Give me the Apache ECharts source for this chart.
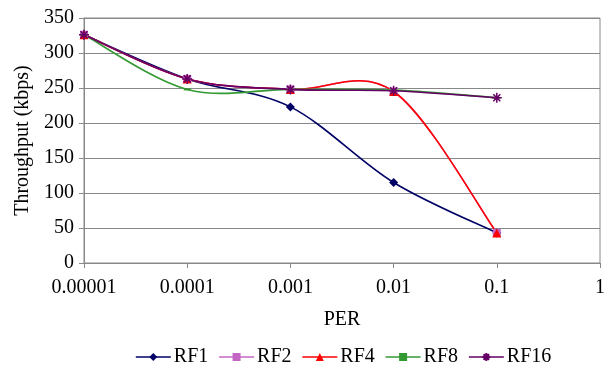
<!DOCTYPE html>
<html><head><meta charset="utf-8">
<script src="https://cdn.jsdelivr.net/npm/echarts@6/dist/echarts.min.js"></script>
<style>html,body{margin:0;padding:0;background:#fff}#c{width:613px;height:370px}</style>
</head><body><div id="c"></div>
<script>
const perValues = [0.00001, 0.0001, 0.001, 0.01, 0.1];
const xTickLabels = ['0.00001', '0.0001', '0.001', '0.01', '0.1', '1'];
const rf1 = [326, 263, 223, 115, 43];
const rf2 = [326, 263, 248, 245, 43];
const rf4 = [326, 263, 248, 245, 43];
const rf8 = [326, 248, 248, 247, 236];
const rf16 = [326, 263, 248, 246, 236];

const font = 'serif';
const serifFont = size => (size || 12) + 'px "Liberation Serif"';
try {
  const mctx = document.createElement('canvas').getContext('2d');
  if (echarts.setPlatformAPI) {
    echarts.setPlatformAPI({ measureText: (text, f) => {
      const m = /(\d+(?:\.\d+)?)px/.exec(f || '');
      mctx.font = serifFont(m ? m[1] : 12);
      return mctx.measureText(text);
    } });
  }
} catch (e) {}

const pairs = v => perValues.map((x, i) => [x, v[i]]);
const asterisk = 'path://M0,5L10,5M5,0L5,10M1.5,1.5L8.5,8.5M8.5,1.5L1.5,8.5';

function curve(name, vals, color) {
  return {
    name: name + '-curve', type: 'custom', data: pairs(vals), z: 1,
    silent: true,
    renderItem: (params, api) => {
      const i = params.dataIndex, n = vals.length;
      if (i >= n - 1) return null;
      const P = k => api.coord([perValues[k], vals[k]]);
      const p1 = P(i), p2 = P(i + 1);
      const p0 = i > 0 ? P(i - 1) : p1;
      const p3 = i + 2 < n ? P(i + 2) : p2;
      return {
        type: 'bezierCurve',
        shape: {
          x1: p1[0], y1: p1[1], x2: p2[0], y2: p2[1],
          cpx1: p1[0] + (p2[0] - p0[0]) / 6, cpy1: p1[1] + (p2[1] - p0[1]) / 6,
          cpx2: p2[0] - (p3[0] - p1[0]) / 6, cpy2: p2[1] - (p3[1] - p1[1]) / 6
        },
        style: { stroke: color, lineWidth: 1.6, fill: null }
      };
    }
  };
}

function mk(name, data, color, symbol, size, extra) {
  return Object.assign({
    name, type: 'line', data: pairs(data), z: 3,
    symbol, symbolSize: size, showSymbol: true,
    lineStyle: { color, width: 1.6, opacity: 0 },
    itemStyle: { color, borderColor: color, borderWidth: 0 }
  }, extra || {});
}

const chart = echarts.init(document.getElementById('c'));
chart.setOption({
  animation: false,
  textStyle: { fontFamily: font },
  grid: { left: 84, right: 13, top: 18, bottom: 107, show: true, borderColor: '#888', borderWidth: 1 },
  xAxis: {
    type: 'log', logBase: 10, min: 0.00001, max: 1,
    name: 'PER', nameLocation: 'middle', nameGap: 47,
    nameTextStyle: { fontFamily: font, fontSize: 20, color: '#000' },
    axisLine: { lineStyle: { color: '#888' } },
    axisTick: { show: true, length: 5, lineStyle: { color: '#888' } },
    splitLine: { show: false },
    minorTick: { show: false },
    axisLabel: {
      fontFamily: font, fontSize: 20, color: '#000', margin: 15,
      formatter: v => xTickLabels[Math.round(Math.log10(v)) + 5]
    }
  },
  yAxis: {
    type: 'value', min: 0, max: 350, interval: 50,
    name: 'Throughput (kbps)', nameLocation: 'middle', nameGap: 50,
    nameTextStyle: { fontFamily: font, fontSize: 20, color: '#000' },
    axisLine: { show: true, lineStyle: { color: '#888' } },
    axisTick: { show: true, length: 5, lineStyle: { color: '#888' } },
    splitLine: { lineStyle: { color: '#888' } },
    axisLabel: { fontFamily: font, fontSize: 20, color: '#000', margin: 10 }
  },
  legend: {
    top: 347, left: 135, padding: 0, itemGap: 10, itemWidth: 35, itemHeight: 10,
    lineStyle: { opacity: 1, width: 1.6 },
    textStyle: { fontFamily: font, fontSize: 20, color: '#000', padding: [0, 0, 0, -2] },
    data: ['RF1', 'RF2', 'RF4', 'RF8', 'RF16']
  },
  series: [
    curve('RF1', rf1, '#000066'),
    curve('RF2', rf2, '#c366c3'),
    curve('RF4', rf4, '#ff0000'),
    curve('RF8', rf8, '#339933'),
    curve('RF16', rf16, '#660066'),
    mk('RF1', rf1, '#000066', 'diamond', 9),
    mk('RF2', rf2, '#c366c3', 'rect', 8),
    mk('RF4', rf4, '#ff0000', 'triangle', 9),
    mk('RF8', rf8, '#339933', 'rect', [7, 2]),
    mk('RF16', rf16, '#660066', asterisk, 10, { itemStyle: { color: '#660066', borderColor: '#660066', borderWidth: 1.5 } })
  ]
});

try {
  const zr = chart.getZr();
  const visit = el => {
    if (el.type === 'text' && el.style) {
      const fs = parseFloat(el.style.fontSize) || 20;
      el.setStyle({ fontSize: null, fontFamily: null, fontWeight: null, fontStyle: null, font: serifFont(fs) });
    }
    const kids = el.childrenRef ? el.childrenRef() : (typeof el.children === 'function' ? el.children() : null);
    if (kids) kids.forEach(visit);
    const tc = el.getTextContent && el.getTextContent();
    if (tc) visit(tc);
  };
  zr.storage.getRoots().forEach(visit);
  zr.refreshImmediately();
} catch (e) {}
</script>
</body></html>
